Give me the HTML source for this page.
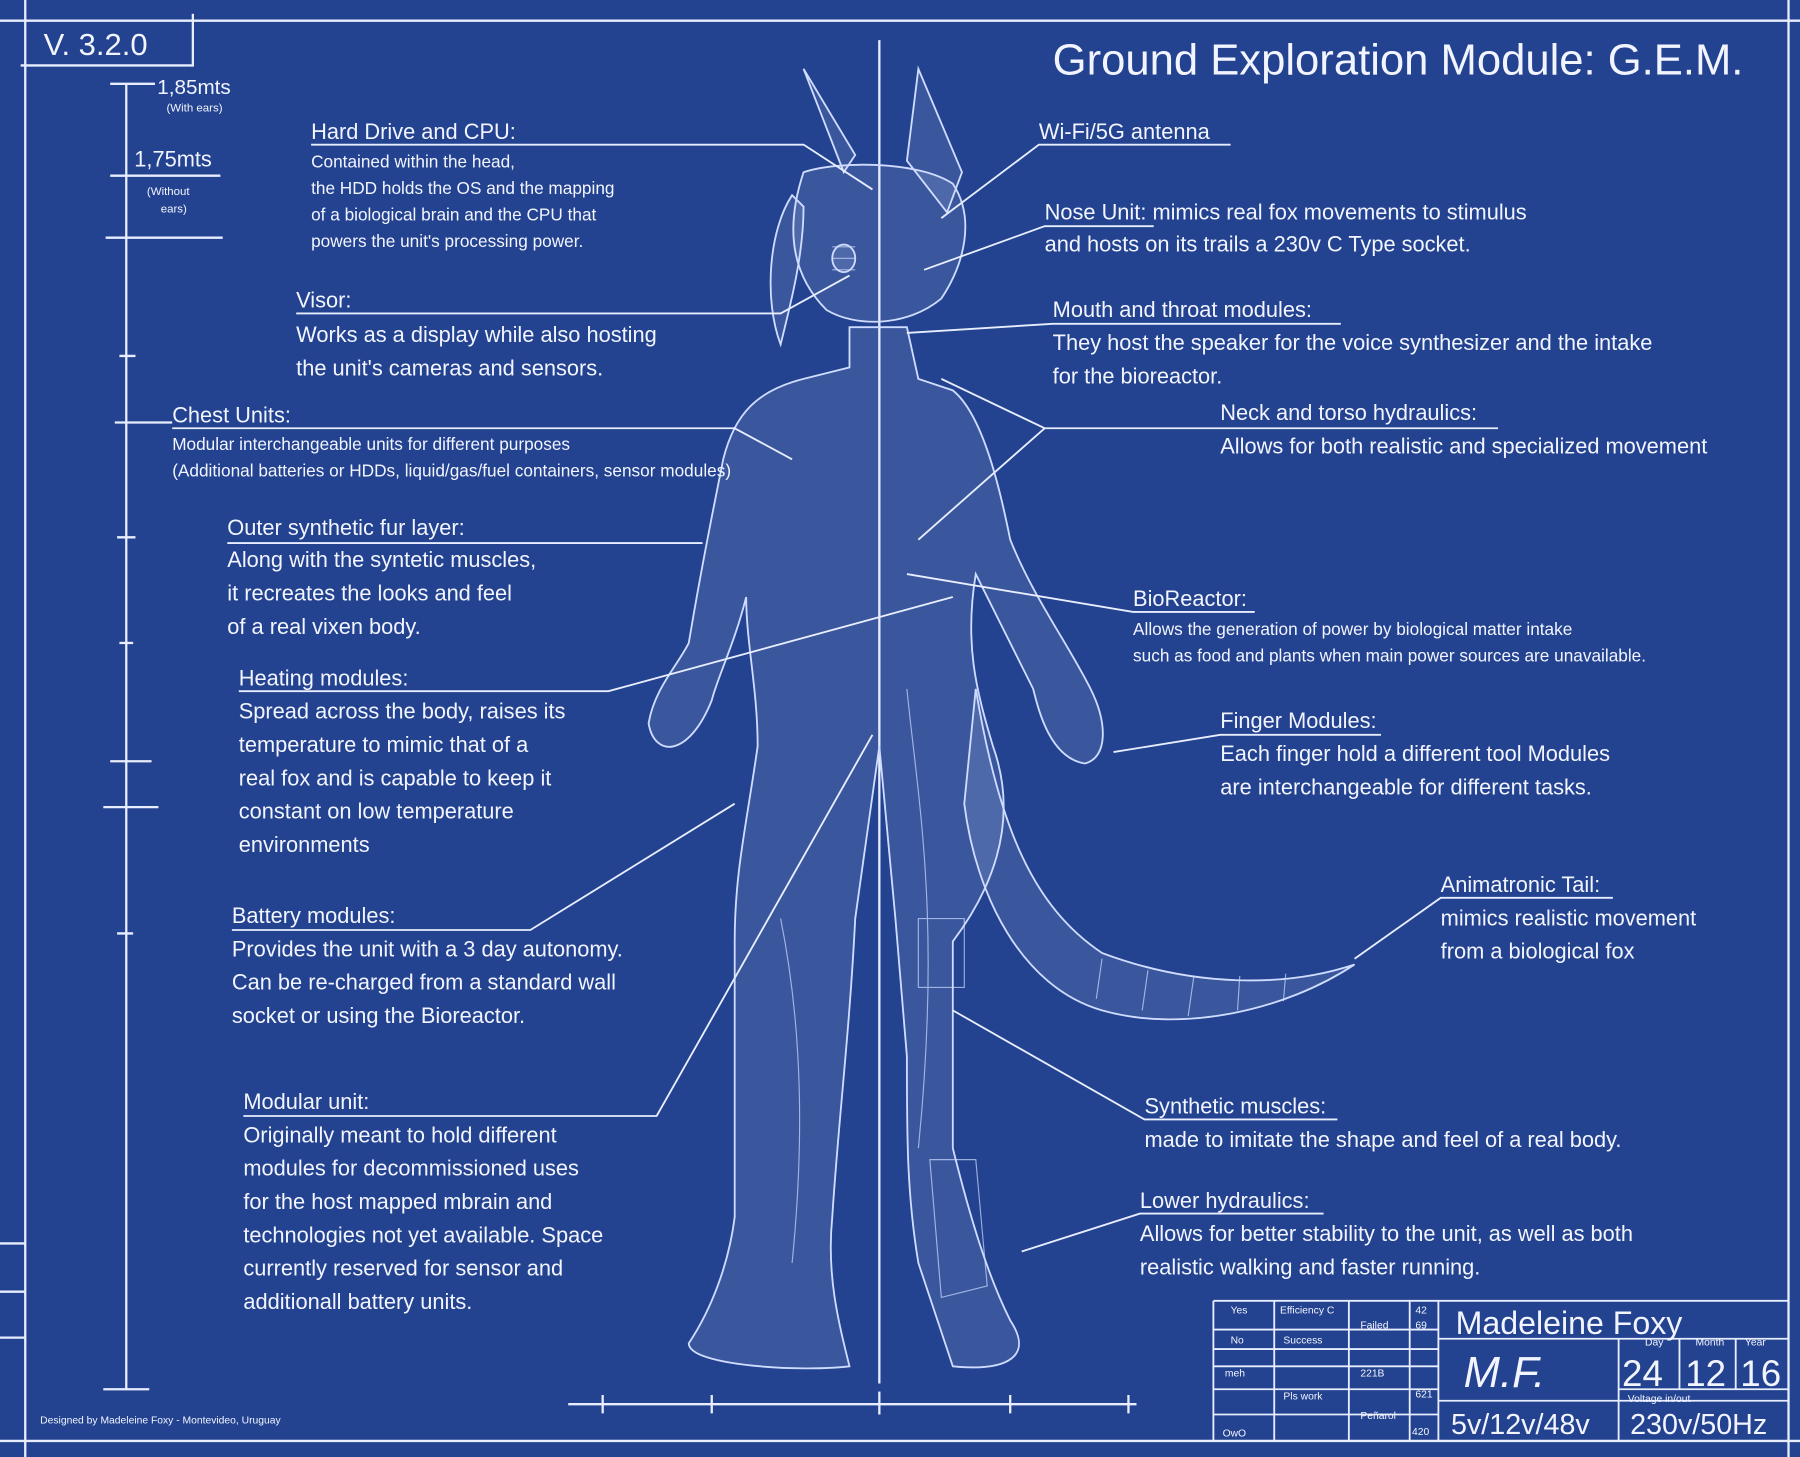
<!DOCTYPE html>
<html><head><meta charset="utf-8"><style>
html,body{margin:0;padding:0;background:#23428f;}
svg{display:block}
text{font-family:"Liberation Sans",sans-serif;fill:#f2f5ff}
</style></head><body>
<svg width="1800" height="1457" viewBox="0 0 1568 1269" preserveAspectRatio="none" xmlns="http://www.w3.org/2000/svg">
<rect width="1568" height="1269" fill="#23428f"/>
<g stroke="#e8eeff" stroke-width="2" fill="none">
<line x1="0" y1="18" x2="1568" y2="18"/><line x1="22" y1="0" x2="22" y2="1269"/>
<line x1="1558" y1="0" x2="1558" y2="1269"/><line x1="0" y1="1255" x2="1568" y2="1255"/>
<line x1="168" y1="12" x2="168" y2="58"/><line x1="18" y1="57" x2="168" y2="57"/>
<line x1="0" y1="1083" x2="22" y2="1083"/><line x1="0" y1="1125" x2="22" y2="1125"/><line x1="0" y1="1165" x2="22" y2="1165"/>
<line x1="110" y1="73" x2="110" y2="1210"/>
<line x1="96" y1="73" x2="135" y2="73"/><line x1="96" y1="153" x2="192" y2="153"/><line x1="92" y1="207" x2="194" y2="207"/>
<line x1="104" y1="310" x2="118" y2="310"/><line x1="100" y1="368" x2="150" y2="368"/><line x1="102" y1="468" x2="118" y2="468"/>
<line x1="104" y1="560" x2="116" y2="560"/><line x1="96" y1="663" x2="132" y2="663"/><line x1="90" y1="703" x2="138" y2="703"/>
<line x1="102" y1="813" x2="116" y2="813"/><line x1="90" y1="1210" x2="130" y2="1210"/>
<line x1="766" y1="35" x2="766" y2="1205"/>
<line x1="495" y1="1223" x2="990" y2="1223"/>
<line x1="525" y1="1215" x2="525" y2="1231"/><line x1="620" y1="1215" x2="620" y2="1231"/><line x1="766" y1="1212" x2="766" y2="1232"/><line x1="880" y1="1215" x2="880" y2="1231"/><line x1="983" y1="1215" x2="983" y2="1231"/>
</g>
<g stroke="#cfdcff" stroke-width="1.6" fill="rgba(220,232,255,0.13)">
<path d="M700 60 L735 150 L745 135 Z"/><path d="M800 60 L790 140 L825 185 L838 150 Z"/>
<path d="M700 150 C690 180 680 230 720 270 C745 285 790 285 820 260 C840 230 850 190 830 160 C800 140 730 140 700 150 Z"/>
<path d="M690 170 C670 200 665 260 680 300 C690 260 700 220 700 180 Z"/>
<path d="M740 285 L790 285 L800 330 L830 340 C855 360 870 420 880 470 C900 520 930 560 950 600 C965 630 965 660 945 665 C915 660 905 620 900 600 C880 560 860 520 850 500 C840 560 850 600 865 650 C890 720 860 780 830 820 L830 1000 C845 1060 860 1110 880 1150 C900 1180 880 1195 830 1190 L800 1100 C790 1040 790 990 790 920 L780 800 L766 650 L745 800 C740 900 730 980 725 1060 C720 1110 730 1150 740 1190 C700 1195 600 1190 600 1170 C620 1140 635 1100 640 1060 C640 980 640 900 640 820 C640 760 650 720 660 650 C660 600 650 560 650 520 C640 560 625 590 620 610 C600 660 570 660 565 630 C570 600 590 580 600 560 C610 500 620 450 630 400 C640 360 660 340 700 330 L740 320 Z"/>
<path d="M850 600 C870 720 900 790 960 830 C1040 860 1120 860 1180 840 C1120 880 1030 900 960 880 C890 860 850 780 840 700 Z"/>
<ellipse cx="735" cy="225" rx="10" ry="12"/>
</g>
<g stroke="#cfdcff" stroke-width="1" fill="none" opacity="0.7">
<path d="M800 800 L840 800 L840 860 L800 860 Z"/><path d="M810 1010 L850 1010 L860 1120 L820 1130 Z"/>
<path d="M960 835 L955 870 M1000 845 L995 880 M1040 850 L1035 885 M1080 850 L1078 880 M1120 848 L1118 872"/>
<path d="M790 600 C800 700 820 800 800 1000"/><path d="M680 800 C700 900 700 1000 690 1100"/>
<path d="M725 215 L745 215 M725 225 L745 225 M725 235 L745 235"/>
</g>
<g stroke="#e8eeff" stroke-width="1.6" fill="none">
<polyline points="271,126 700,126 760,165"/>
<polyline points="258,273 680,273 740,240"/>
<polyline points="150,373 640,373 690,400"/>
<polyline points="198,473 612,473"/>
<polyline points="208,602 530,602 830,520"/>
<polyline points="202,810 462,810 640,700"/>
<polyline points="212,972 572,972 760,640"/>
<polyline points="1072,126 905,126 820,190"/>
<polyline points="1005,197 910,197 805,235"/>
<polyline points="1168,282 917,282 790,290"/>
<polyline points="1305,373 910,373 820,330"/><line x1="910" y1="373" x2="800" y2="470"/>
<polyline points="1093,533 987,533 790,500"/>
<polyline points="1203,640 1063,640 970,655"/>
<polyline points="1405,782 1255,782 1180,835"/>
<polyline points="1165,975 997,975 830,880"/>
<polyline points="1153,1057 993,1057 890,1090"/>
<line x1="1057" y1="1133" x2="1558" y2="1133"/><line x1="1057" y1="1133" x2="1057" y2="1255"/>
<line x1="1110" y1="1133" x2="1110" y2="1255"/><line x1="1175" y1="1133" x2="1175" y2="1255"/><line x1="1228" y1="1133" x2="1228" y2="1255"/><line x1="1253" y1="1133" x2="1253" y2="1255"/>
<line x1="1057" y1="1158" x2="1253" y2="1158"/><line x1="1057" y1="1175" x2="1253" y2="1175"/><line x1="1057" y1="1190" x2="1253" y2="1190"/><line x1="1057" y1="1210" x2="1253" y2="1210"/><line x1="1057" y1="1232" x2="1253" y2="1232"/>
<line x1="1253" y1="1166" x2="1558" y2="1166"/><line x1="1253" y1="1220" x2="1558" y2="1220"/>
<line x1="1410" y1="1166" x2="1410" y2="1255"/><line x1="1463" y1="1166" x2="1463" y2="1210"/><line x1="1512" y1="1166" x2="1512" y2="1210"/><line x1="1410" y1="1210" x2="1558" y2="1210"/>
</g>
<text x="38" y="48" font-size="27">V. 3.2.0</text>
<text x="137" y="82" font-size="18">1,85mts</text>
<text x="145" y="97" font-size="10">(With ears)</text>
<text x="117" y="145" font-size="19">1,75mts</text>
<text x="128" y="170" font-size="10">(Without</text><text x="140" y="185" font-size="10">ears)</text>
<text x="917" y="65" font-size="38">Ground Exploration Module: G.E.M.</text>
<g font-size="19">
<text x="271" y="121">Hard Drive and CPU:</text>
<text x="258" y="268">Visor:</text>
<text x="150" y="368">Chest Units:</text>
<text x="198" y="466">Outer synthetic fur layer:</text>
<text x="208" y="597">Heating modules:</text>
<text x="202" y="804">Battery modules:</text>
<text x="212" y="966">Modular unit:</text>
<text x="905" y="121">Wi-Fi/5G antenna</text>
<text x="910" y="191">Nose Unit: mimics real fox movements to stimulus</text>
<text x="910" y="219">and hosts on its trails a 230v C Type socket.</text>
<text x="917" y="276">Mouth and throat modules:</text>
<text x="1063" y="366">Neck and torso hydraulics:</text>
<text x="987" y="528">BioReactor:</text>
<text x="1063" y="634">Finger Modules:</text>
<text x="1255" y="777">Animatronic Tail:</text>
<text x="997" y="970">Synthetic muscles:</text>
<text x="993" y="1052">Lower hydraulics:</text>
</g>
<g font-size="15">
<text x="271" y="146">Contained within the head,</text>
<text x="271" y="169">the HDD holds the OS and the mapping</text>
<text x="271" y="192">of a biological brain and the CPU that</text>
<text x="271" y="215">powers the unit's processing power.</text>
<text x="150" y="392">Modular interchangeable units for different purposes</text>
<text x="150" y="415">(Additional batteries or HDDs, liquid/gas/fuel containers, sensor modules)</text>
<text x="987" y="553">Allows the generation of power by biological matter intake</text>
<text x="987" y="576">such as food and plants when main power sources are unavailable.</text>
</g>
<g font-size="19">
<text x="258" y="298">Works as a display while also hosting</text>
<text x="258" y="327">the unit's cameras and sensors.</text>
<text x="198" y="494">Along with the syntetic muscles,</text>
<text x="198" y="523">it recreates the looks and feel</text>
<text x="198" y="552">of a real vixen body.</text>
<text x="208" y="626">Spread across the body, raises its</text>
<text x="208" y="655">temperature to mimic that of a</text>
<text x="208" y="684">real fox and is capable to keep it</text>
<text x="208" y="713">constant on low temperature</text>
<text x="208" y="742">environments</text>
<text x="202" y="833">Provides the unit with a 3 day autonomy.</text>
<text x="202" y="862">Can be re-charged from a standard wall</text>
<text x="202" y="891">socket or using the Bioreactor.</text>
<text x="212" y="995">Originally meant to hold different</text>
<text x="212" y="1024">modules for decommissioned uses</text>
<text x="212" y="1053">for the host mapped mbrain and</text>
<text x="212" y="1082">technologies not yet available. Space</text>
<text x="212" y="1111">currently reserved for sensor and</text>
<text x="212" y="1140">additionall battery units.</text>
<text x="917" y="305">They host the speaker for the voice synthesizer and the intake</text>
<text x="917" y="334">for the bioreactor.</text>
<text x="1063" y="395">Allows for both realistic and specialized movement</text>
<text x="1063" y="663">Each finger hold a different tool Modules</text>
<text x="1063" y="692">are interchangeable for different tasks.</text>
<text x="1255" y="806">mimics realistic movement</text>
<text x="1255" y="835">from a biological fox</text>
<text x="997" y="999">made to imitate the shape and feel of a real body.</text>
<text x="993" y="1081">Allows for better stability to the unit, as well as both</text>
<text x="993" y="1110">realistic walking and faster running.</text>
</g>
<g font-size="9">
<text x="1072" y="1144">Yes</text><text x="1115" y="1144">Efficiency C</text><text x="1233" y="1144">42</text>
<text x="1185" y="1157">Failed</text><text x="1233" y="1157">69</text>
<text x="1072" y="1170">No</text><text x="1118" y="1170">Success</text>
<text x="1067" y="1199">meh</text><text x="1185" y="1199">221B</text>
<text x="1118" y="1219">Pls work</text><text x="1233" y="1217">621</text>
<text x="1185" y="1236">Peñarol</text>
<text x="1065" y="1251">OwO</text><text x="1230" y="1250">420</text>
<text x="1433" y="1172">Day</text><text x="1477" y="1172">Month</text><text x="1520" y="1172">Year</text>
<text x="1418" y="1221">Voltage in/out</text>
<text x="35" y="1240">Designed by Madeleine Foxy - Montevideo, Uruguay</text>
</g>
<text x="1268" y="1162" font-size="28">Madeleine Foxy</text>
<text x="1275" y="1208" font-size="38" font-style="italic" font-family="Liberation Serif">M.F.</text>
<text x="1413" y="1207" font-size="32">24</text><text x="1468" y="1207" font-size="32">12</text><text x="1516" y="1207" font-size="32">16</text>
<text x="1264" y="1249" font-size="25">5v/12v/48v</text>
<text x="1420" y="1249" font-size="25">230v/50Hz</text>
</svg>
</body></html>
